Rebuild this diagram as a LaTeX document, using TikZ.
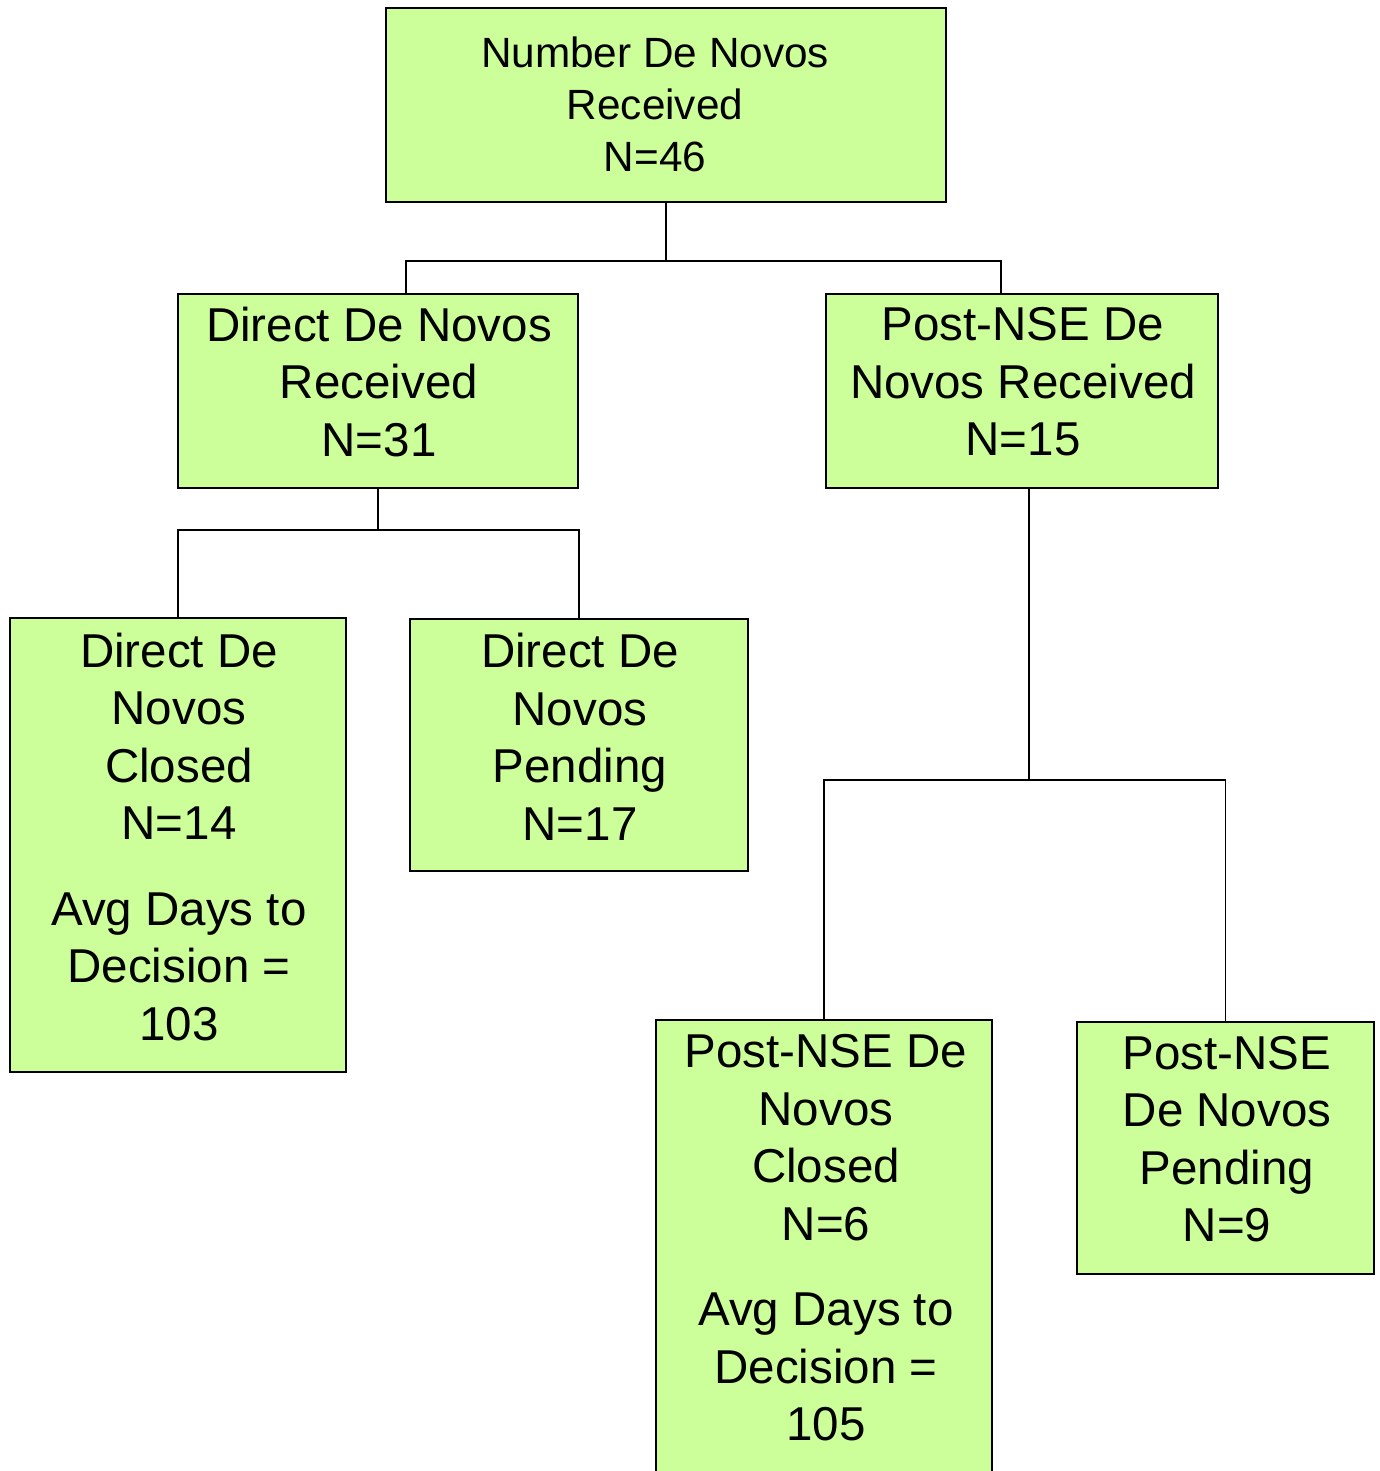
\documentclass[tikz,border=0pt]{standalone}
\usepackage{fontspec}
\setmainfont{Liberation Sans}
\definecolor{boxgreen}{RGB}{204,255,153}
\begin{document}
\begin{tikzpicture}[x=1pt,y=-1pt,
  box/.style={draw=black,line width=1.8pt,fill=boxgreen,inner sep=0pt,rectangle},
  lbl/.style={align=center,inner sep=0pt,font=\fontsize{47.5}{57.5}\selectfont},
  link/.style={draw=black,line width=1.8pt}]
\useasboundingbox (0,0) rectangle (1379,1471);
\clip (0,0) rectangle (1379,1471);
% boxes
\node[box,minimum width=560,minimum height=194] (top) at (666,105) {};
\node[box,minimum width=400,minimum height=194] (dr) at (378,391) {};
\node[box,minimum width=392,minimum height=194] (pr) at (1022,391) {};
\node[box,minimum width=336,minimum height=454] (dc) at (178,845) {};
\node[box,minimum width=338,minimum height=252] (dp) at (579,745) {};
\node[box,minimum width=336,minimum height=480] (pc) at (824,1260) {};
\node[box,minimum width=297,minimum height=252] (pp) at (1225.5,1148) {};
% texts
\node[lbl,font=\fontsize{42.3}{52}\selectfont] (ttop) at (655,104) {Number De Novos\\Received\\N=46};
\node[lbl] (tdr) at (379,382) {Direct De Novos\\Received\\N=31};
\node[lbl] (tpr) at (1023,382) {Post-NSE De\\Novos Received\\N=15};
\node[lbl] (tdc) at (179,837) {Direct De\\Novos\\Closed\\N=14\\[28pt]Avg Days to\\Decision =\\103};
\node[lbl] (tdp) at (580,737) {Direct De\\Novos\\Pending\\N=17};
\node[lbl] (tpc) at (826,1238) {Post-NSE De\\Novos\\Closed\\N=6\\[28pt]Avg Days to\\Decision =\\105};
\node[lbl] (tpp) at (1227,1139) {Post-NSE\\De Novos\\Pending\\N=9};
% connectors
\coordinate (j1) at (666,261);
\coordinate (j2) at (378,530);
\coordinate (j3) at (1029,780);
\draw[link] (top.south) -- (j1);
\draw[link] (j1) -| ([xshift=28]dr.north);
\draw[link] (j1) -| ([xshift=-21]pr.north);
\draw[link] (dr.south) -- (j2);
\draw[link] (j2) -| (dc.north);
\draw[link] (j2) -| (dp.north);
\draw[link] ([xshift=7]pr.south) -- (j3);
\draw[link] (j3) -| (pc.north);
\draw[link] (j3) -| (pp.north);
\end{tikzpicture}
\end{document}
